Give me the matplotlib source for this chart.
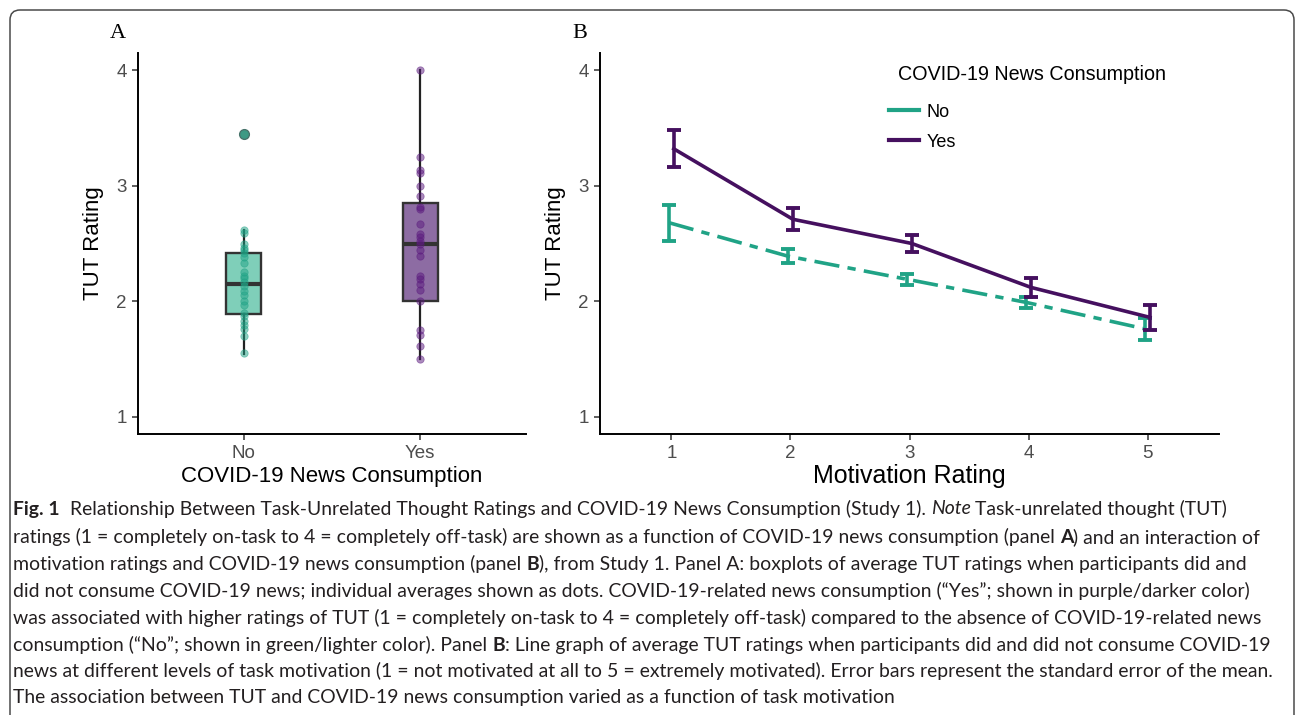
import numpy as np
import matplotlib
matplotlib.use('Agg')
from matplotlib import pyplot as plt
from matplotlib.lines import Line2D
from matplotlib.patches import FancyBboxPatch
from matplotlib.transforms import IdentityTransform

# ---- data ----
groups = ['No', 'Yes']
no_points = [1.55, 1.70, 1.76, 1.79, 1.83, 1.87, 1.90, 1.97, 2.00, 2.05, 2.09, 2.13,
             2.17, 2.20, 2.22, 2.25, 2.33, 2.38, 2.42, 2.44, 2.46, 2.50, 2.59, 2.62, 3.45]
yes_points = [1.50, 1.61, 1.71, 1.75, 2.00, 2.10, 2.15, 2.19, 2.22, 2.39, 2.44, 2.50,
              2.52, 2.56, 2.58, 2.67, 2.80, 2.82, 2.91, 3.00, 3.11, 3.14, 3.25, 4.00]
# boxplot stats: whislo, q1, med, q3, whishi, outliers
no_box = [1.54, 1.89, 2.15, 2.42, 2.62, [3.45]]
yes_box = [1.50, 2.00, 2.50, 2.85, 4.00, []]

motivation = [1, 2, 3, 4, 5]
no_mean = [2.68, 2.39, 2.19, 1.99, 1.76]
no_se = [0.155, 0.06, 0.05, 0.05, 0.095]
yes_mean = [3.32, 2.71, 2.50, 2.12, 1.86]
yes_se = [0.16, 0.095, 0.075, 0.08, 0.11]

caption = [
    [('Fig. 1', 'bold', 'normal'),
     ('  Relationship Between Task-Unrelated Thought Ratings and COVID-19 News Consumption (Study 1). ', 'normal', 'normal'),
     ('Note', 'normal', 'italic'),
     (' Task-unrelated thought (TUT)', 'normal', 'normal')],
    [('ratings (1 = completely on-task to 4 = completely off-task) are shown as a function of COVID-19 news consumption (panel ', 'normal', 'normal'),
     ('A', 'bold', 'normal'),
     (') and an interaction of', 'normal', 'normal')],
    [('motivation ratings and COVID-19 news consumption (panel ', 'normal', 'normal'),
     ('B', 'bold', 'normal'),
     ('), from Study 1. Panel A: boxplots of average TUT ratings when participants did and', 'normal', 'normal')],
    [('did not consume COVID-19 news; individual averages shown as dots. COVID-19-related news consumption (\u201cYes\u201d; shown in purple/darker color)', 'normal', 'normal')],
    [('was associated with higher ratings of TUT (1 = completely on-task to 4 = completely off-task) compared to the absence of COVID-19-related news', 'normal', 'normal')],
    [('consumption (\u201cNo\u201d; shown in green/lighter color). Panel ', 'normal', 'normal'),
     ('B', 'bold', 'normal'),
     (': Line graph of average TUT ratings when participants did and did not consume COVID-19', 'normal', 'normal')],
    [('news at different levels of task motivation (1 = not motivated at all to 5 = extremely motivated). Error bars represent the standard error of the mean.', 'normal', 'normal')],
    [('The association between TUT and COVID-19 news consumption varied as a function of task motivation', 'normal', 'normal')],
]

teal = '#20a386'
purple = '#45105f'
W, H = 1295, 715

plt.rcParams['font.family'] = ['Liberation Sans', 'DejaVu Sans']
fig = plt.figure(figsize=(W / 100, H / 100), dpi=100)


def style_axes(ax):
    for s in ['top', 'right']:
        ax.spines[s].set_visible(False)
    for s in ['left', 'bottom']:
        ax.spines[s].set_linewidth(1.4)
        ax.spines[s].set_color('black')
    ax.tick_params(axis='both', length=4, width=1.1, color='#333333',
                   labelsize=13.5, labelcolor='#4d4d4d', pad=4)
    ax.set_ylim(0.85, 4.15)
    ax.set_yticks([1, 2, 3, 4])


# ---- panel A ----
axA = fig.add_axes([138 / W, 1 - 434 / H, 388 / W, 381 / H])
style_axes(axA)
stats = []
for name, b in zip(groups, [no_box, yes_box]):
    stats.append(dict(label=name, whislo=b[0], q1=b[1], med=b[2], q3=b[3], whishi=b[4], fliers=b[5]))
bp = axA.bxp(stats, positions=[1, 2], widths=0.2, patch_artist=True, showcaps=False,
             boxprops=dict(linewidth=1.7, edgecolor='#333333'),
             medianprops=dict(linewidth=3.0, color='#333333'),
             whiskerprops=dict(linewidth=1.6, color='#222222'),
             flierprops=dict(marker='o', markersize=7, markerfacecolor='#5f8f83',
                             markeredgecolor='#46726a', alpha=1))
for patch, fc in zip(bp['boxes'], ['#7fcfb9', '#8d6ca3']):
    patch.set_facecolor(fc)
    patch.set_zorder(2)
axA.scatter(np.ones(len(no_points)), no_points, s=28, color=teal, alpha=0.5, zorder=3, linewidths=0.6)
axA.scatter(np.full(len(yes_points), 2), yes_points, s=28, color='#5b1a7e', alpha=0.5, zorder=3, linewidths=0.6)
axA.set_xlim(0.4, 2.6)
axA.set_xticks([1, 2])
axA.set_xticklabels(groups)
axA.set_ylabel('TUT Rating', fontsize=16, labelpad=9)
axA.set_xlabel('COVID-19 News Consumption', fontsize=16, labelpad=3)

# ---- panel B ----
axB = fig.add_axes([600 / W, 1 - 434 / H, 619 / W, 381 / H])
style_axes(axB)
x = np.array(motivation, dtype=float)
axB.errorbar(x - 0.02, no_mean, yerr=no_se, color=teal, linewidth=2.6, dashes=(7, 2.3, 2.3, 2.3),
             elinewidth=2.6, capsize=5, capthick=2.8, zorder=3)
axB.errorbar(x + 0.02, yes_mean, yerr=yes_se, color=purple, linewidth=2.6,
             elinewidth=2.6, capsize=5, capthick=2.8, zorder=4)
axB.set_xlim(0.4, 5.6)
axB.set_xticks(motivation)
axB.set_ylabel('TUT Rating', fontsize=16, labelpad=9)
axB.set_xlabel('Motivation Rating', fontsize=18, labelpad=1)

# legend: title as its own text, entries through the legend
fig.text(898 / W, 1 - 75 / H, 'COVID-19 News Consumption', fontsize=14.2, va='center', ha='left')
handles = [Line2D([], [], color=teal, linewidth=3), Line2D([], [], color=purple, linewidth=3)]
leg = axB.legend(handles, groups, loc='upper left',
                 bbox_to_anchor=(876 / W, 1 - 91 / H), bbox_transform=fig.transFigure,
                 frameon=False, fontsize=13, handlelength=1.66, borderpad=0.2,
                 handletextpad=0.45, labelspacing=0.72)

# panel letters
fig.text(118 / W, 1 - 34 / H, 'A', family='Liberation Serif', fontsize=16, va='center', ha='center')
fig.text(580 / W, 1 - 34 / H, 'B', family='Liberation Serif', fontsize=16, va='center', ha='center')

# ---- caption ----
cap = fig.add_axes([0, 0, 1, 1])
cap.axis('off')
cap.set_xlim(0, 1)
cap.set_ylim(0, 1)
cap_size = 13.95
line_y = [509, 537, 564, 591, 618, 645, 671, 697]
for yy, pieces in zip(line_y, caption):
    prev = None
    for txt, wt, st in pieces:
        kw = dict(fontsize=cap_size, family='Lato', weight=wt, style=st, color='#231f20')
        if prev is None:
            prev = cap.text(13 / W, 1 - yy / H, txt, va='center', ha='left', **kw)
        else:
            prev = cap.annotate(txt, xy=(1, 0), xycoords=prev, va='bottom', ha='left', **kw)

# rounded border
border = FancyBboxPatch((10, -20), 1284, 725, boxstyle='round,pad=0,rounding_size=10',
                        transform=IdentityTransform(), fill=False, edgecolor='#4a4a4a',
                        linewidth=1.1, clip_on=False)
fig.patches.append(border)

fig.savefig('out.png', dpi=100)
